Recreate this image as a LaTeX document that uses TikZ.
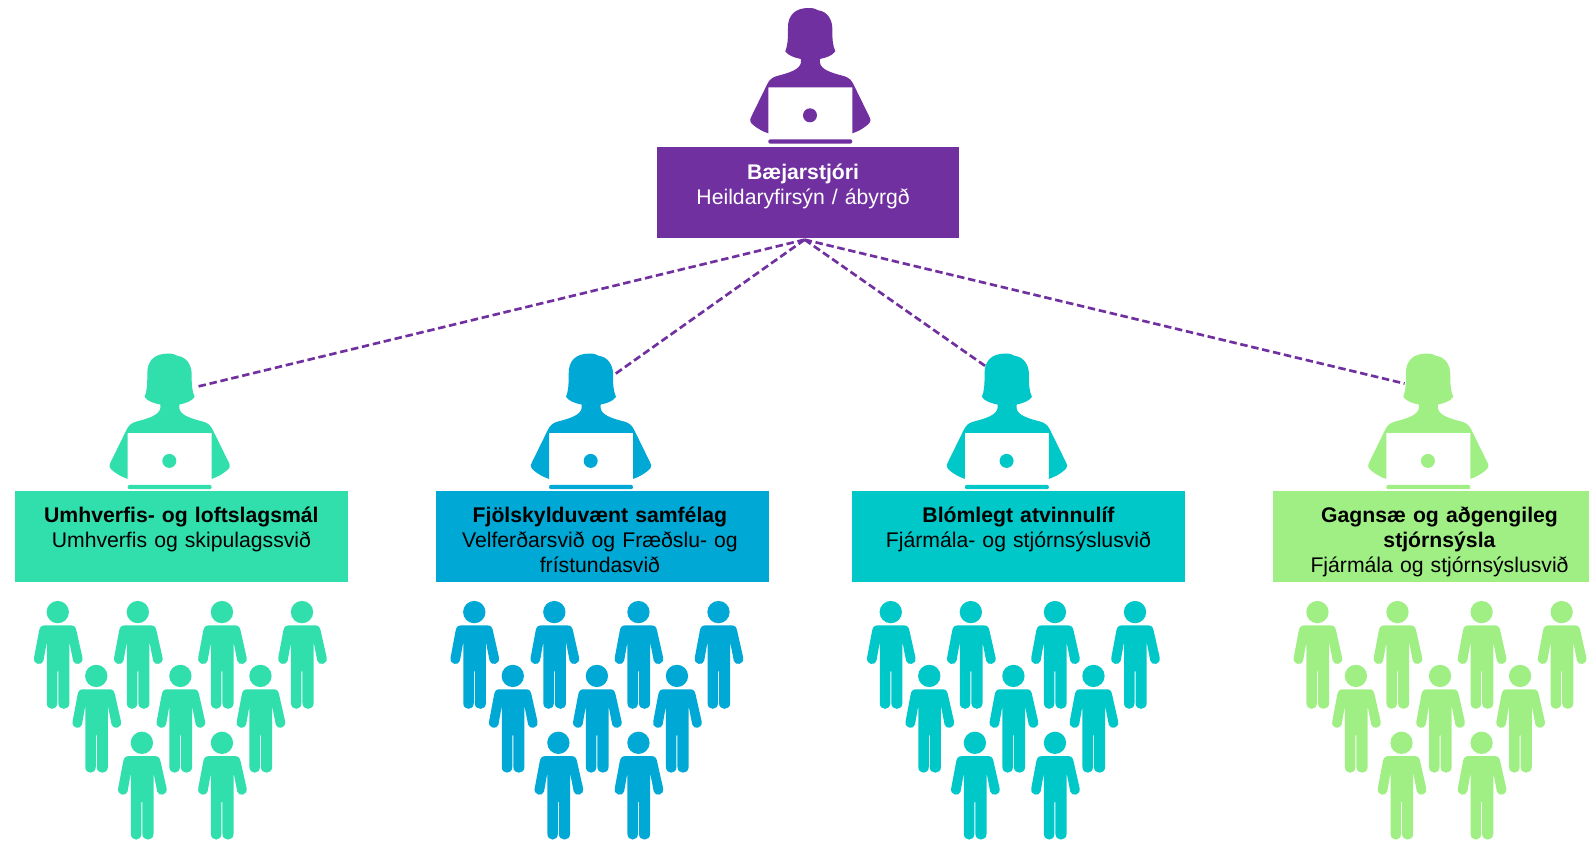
\documentclass[tikz,border=0pt]{standalone}
\usepackage{fontspec}
\setmainfont{Liberation Sans}
\definecolor{cpurple}{HTML}{7030A0}
\definecolor{cgreen}{HTML}{31DFAC}
\definecolor{cblue}{HTML}{00A8D6}
\definecolor{cteal}{HTML}{00C7C8}
\definecolor{clight}{HTML}{A0EF85}
\tikzset{
  boxtext/.style={anchor=north,align=center,inner sep=0pt,font=\fontsize{15.9}{19}\selectfont,text width=320*0.76pt},
  link/.style={draw=cpurple,line width=2pt,dash pattern=on 5.6pt off 2.8pt},
  pics/woman/.style={code={
    \fill[#1] (-28,177) .. controls (-48,173) and (-66,167) .. (-75,154)
      .. controls (-68,135) and (-67,120) .. (-67,85)
      .. controls (-68,45) and (-45,24) .. (-5,24)
      .. controls (8,24) and (16,26) .. (24,31)
      .. controls (50,34) and (66,58) .. (66,85)
      .. controls (66,120) and (67,135) .. (75,154)
      .. controls (66,167) and (48,173) .. (29,177)
      -- (29,188) .. controls (32,208) and (60,218) .. (100,228)
      .. controls (115,232) and (123,240) .. (129,252)
      -- (178,352) .. controls (183,362) and (180,368) .. (170,376)
      .. controls (158,386) and (142,395) .. (126,400)
      -- (126,262) -- (-126,262) -- (-126,400)
      .. controls (-142,395) and (-158,386) .. (-170,376)
      .. controls (-180,368) and (-183,362) .. (-178,352)
      -- (-129,252) .. controls (-123,240) and (-115,232) .. (-100,228)
      .. controls (-60,218) and (-32,208) .. (-28,188) -- cycle;
    \fill[#1] (-1,346) circle (21);
    \fill[#1] (-120,418) .. controls (-128,418) and (-128,431) .. (-120,431)
      -- (120,431) .. controls (128,431) and (128,418) .. (120,418) -- cycle;
  }},
  pics/man/.style={code={
    \fill[#1] (0,0) circle (33.5);
    \fill[#1] (-1.5,178) -- (-1.5,273)
      .. controls (-1.5,296) and (-33,296) .. (-33,273)
      -- (-33,90) -- (-43,146)
      .. controls (-47,162) and (-75,158) .. (-71,136)
      -- (-56,56) .. controls (-54,46) and (-50,40) .. (-40,40)
      -- (40,40) .. controls (50,40) and (54,46) .. (56,56)
      -- (74,136) .. controls (78,158) and (50,162) .. (46,146)
      -- (35,90) -- (35,273)
      .. controls (35,296) and (1.5,296) .. (1.5,273)
      -- (1.5,178) -- cycle;
  }},
  pics/crowd/.style={code={
    \foreach \px/\py in {57/604,136/604,219/604,298/604,95/667,178/667,257/667,140/733,219/733}
      \pic[scale=.3289] at (\px,\py) {man=#1};
  }}
}
\begin{document}
\begin{tikzpicture}[x=0.76pt,y=-0.76pt]
\useasboundingbox (0,0) rectangle (1568,829);
% boxes
\path[fill=cpurple] (648,145) rectangle (946,235);
\path[fill=cgreen] (15,485) rectangle (343,574);
\path[fill=cblue] (430,485) rectangle (759,574);
\path[fill=cteal] (841,485) rectangle (1169,574);
\path[fill=clight] (1256,485) rectangle (1568,574);
% figures
\pic[scale=.3289] at (799.6,0) {woman=cpurple};
\pic[scale=.3289] at (167.4,341) {woman=cgreen};
\pic[scale=.3289] at (583.2,341) {woman=cblue};
\pic[scale=.3289] at (993.6,341) {woman=cteal};
\pic[scale=.3289] at (1409.4,341) {woman=clight};
\pic at (0,0) {crowd=cgreen};
\pic at (411,0) {crowd=cblue};
\pic at (822,0) {crowd=cteal};
\pic at (1243,0) {crowd=clight};
% texts
\node[boxtext,text=white] (t0) at (792.5,161.5) {\textbf{Bæjarstjóri}\\Heildaryfirsýn / ábyrgð};
\node[boxtext] (t1) at (179,499.5) {\textbf{Umhverfis- og loftslagsmál}\\Umhverfis og skipulagssvið};
\node[boxtext] (t2) at (592,499.5) {\textbf{Fjölskylduvænt samfélag}\\Velferðarsvið og Fræðslu- og\\frístundasvið};
\node[boxtext] (t3) at (1005,499.5) {\textbf{Blómlegt atvinnulíf}\\Fjármála- og stjórnsýslusvið};
\node[boxtext] (t4) at (1420.5,499.5) {\textbf{Gagnsæ og aðgengileg}\\\textbf{stjórnsýsla}\\Fjármála og stjórnsýslusvið};
% connectors
\coordinate (hub) at (794,236.5);
\coordinate (w1) at (195,381.5);
\coordinate (w2) at (605,370.5);
\coordinate (w3) at (972,361);
\coordinate (w4) at (1386,378.5);
\draw[link] (hub) -- (w1);
\draw[link] (hub) -- (w2);
\draw[link] (hub) -- (w3);
\draw[link] (hub) -- (w4);
\end{tikzpicture}
\end{document}
